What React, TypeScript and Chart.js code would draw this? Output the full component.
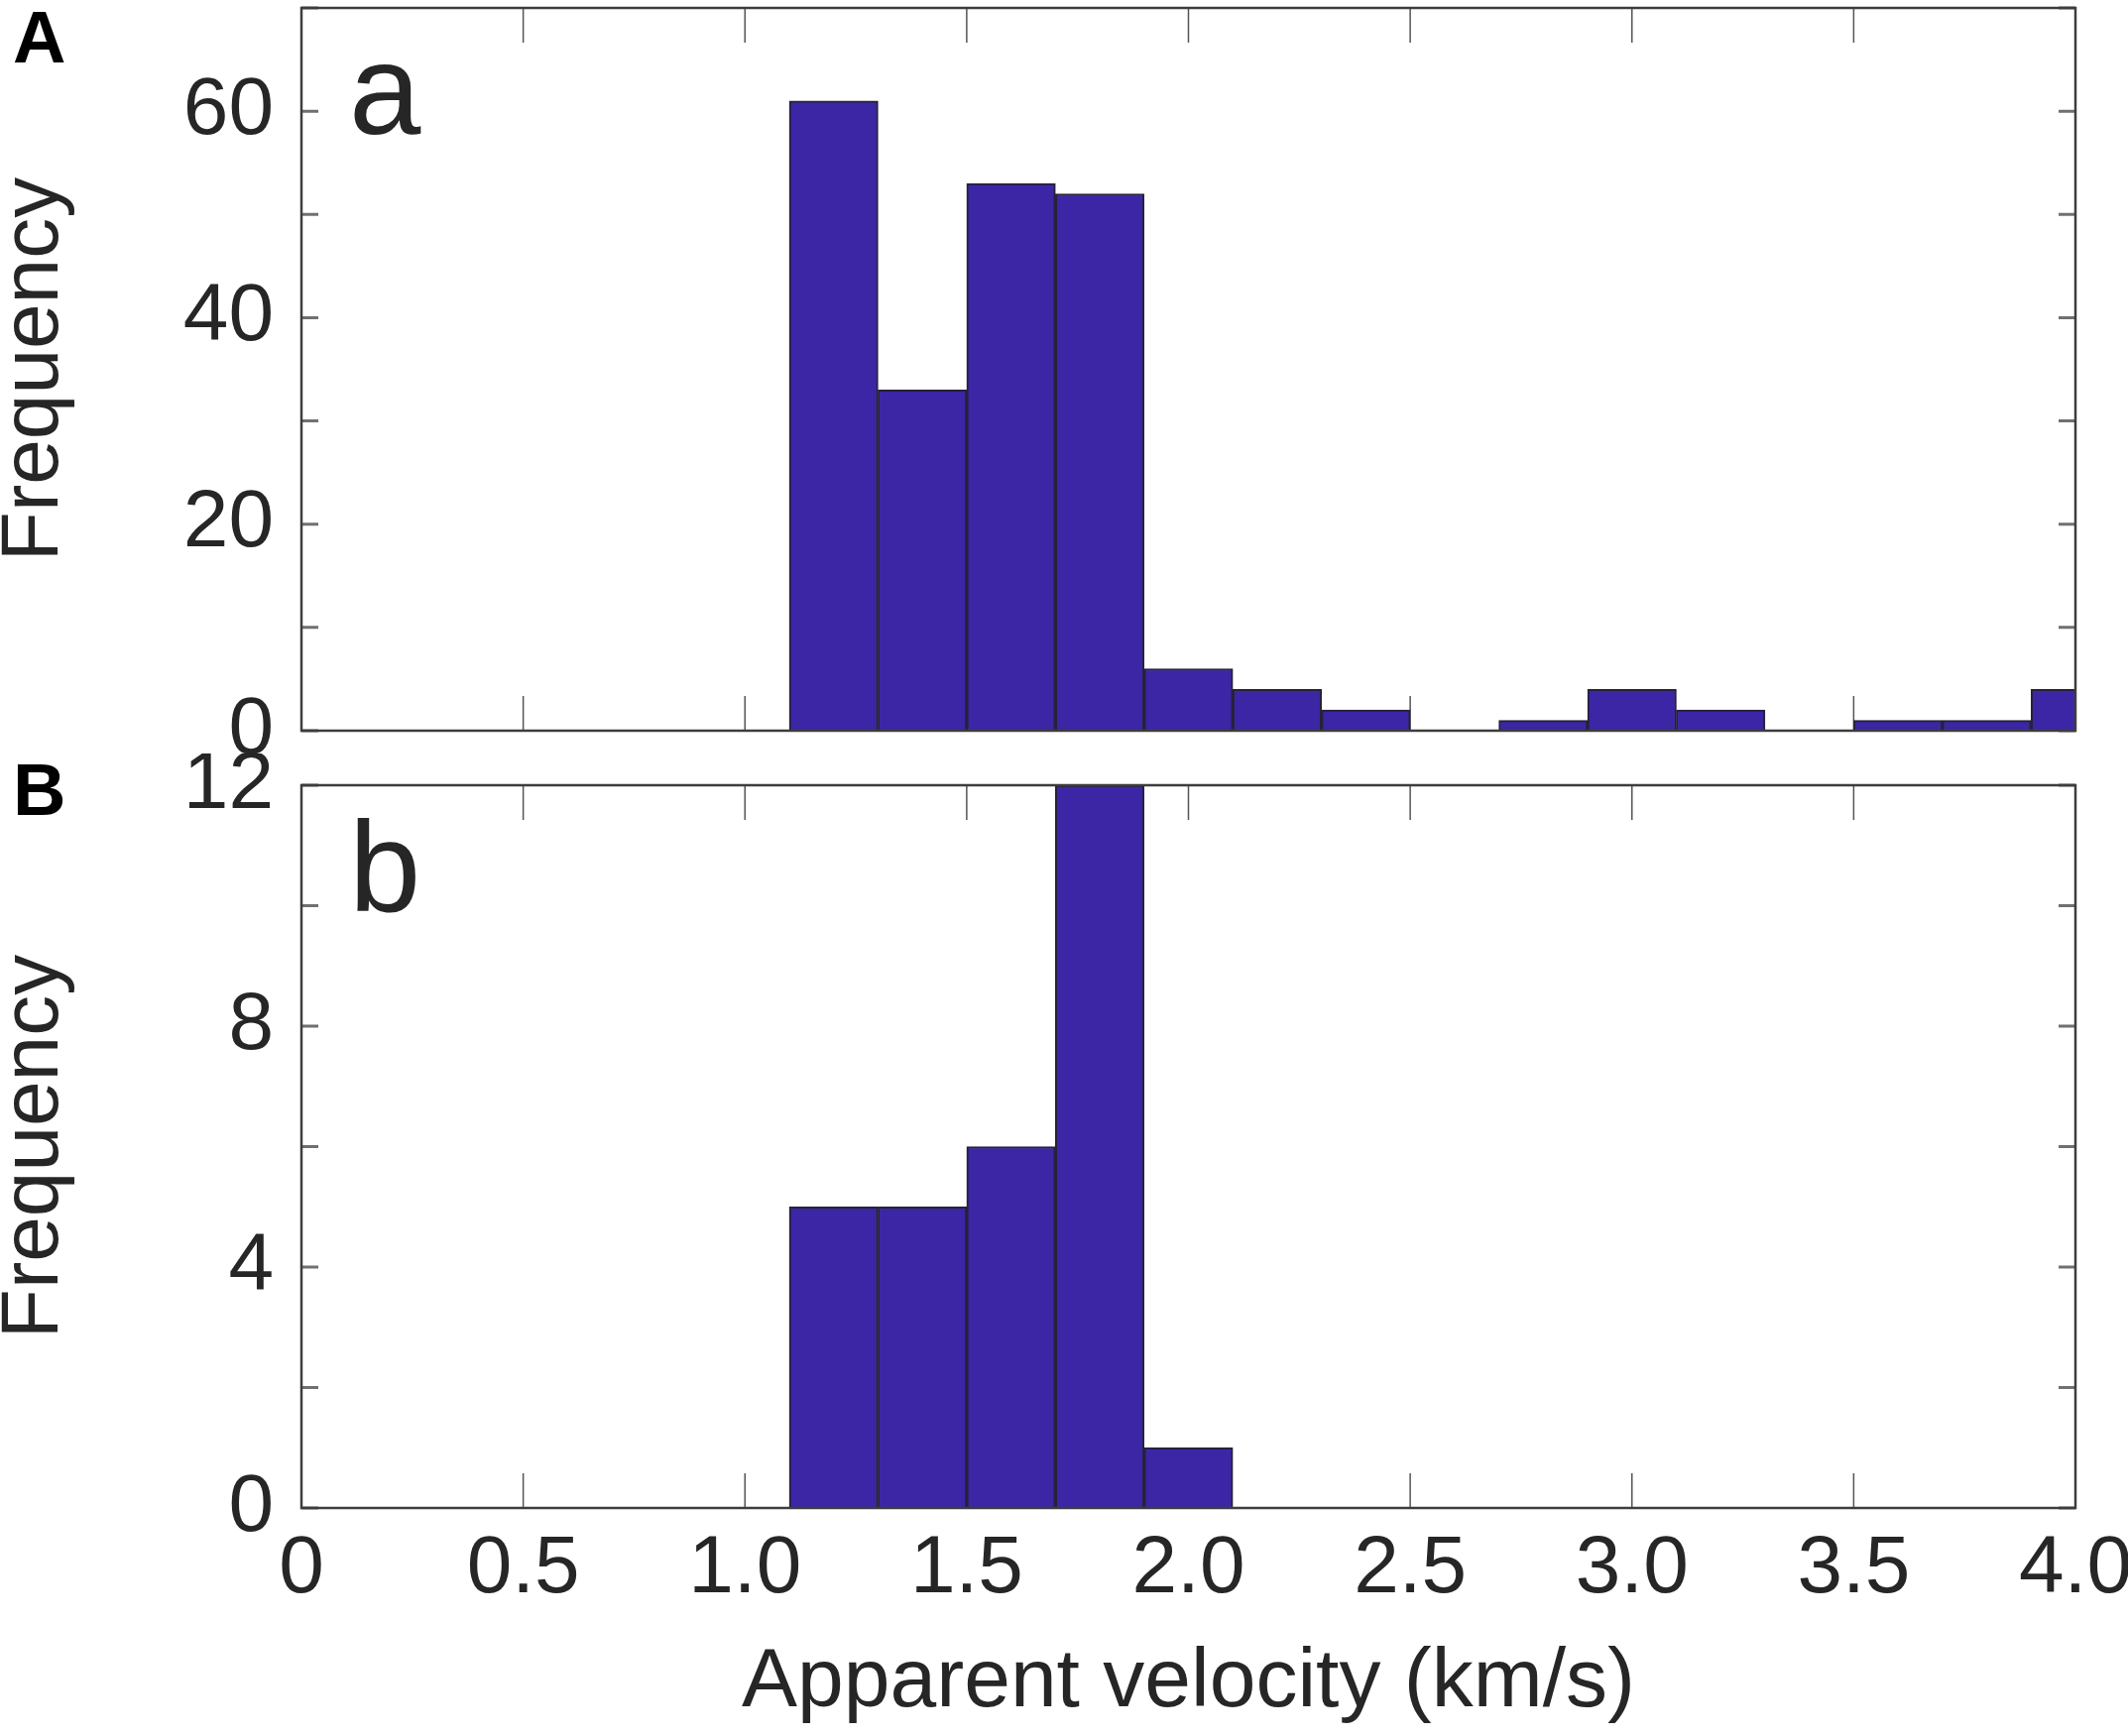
import React, { useEffect, useRef } from 'react';
import { Chart, registerables } from 'chart.js';

Chart.register(...registerables);

// histogram bins are 0.2 km/s wide, values are counts per bin
const binCentersA = [1.2, 1.4, 1.6, 1.8, 2.0, 2.2, 2.4, 2.6, 2.8, 3.0, 3.2, 3.4, 3.6, 3.8, 4.0];
const countsA = [61, 33, 53, 52, 6, 4, 2, 0, 1, 4, 2, 0, 1, 1, 4];

const binCentersB = [1.2, 1.4, 1.6, 1.8, 2.0];
const countsB = [5, 5, 6, 12, 1];

const velocityMin = 0;
const velocityMax = 4;
const velocityStep = 0.5;

const FONT = '"Liberation Sans", Arial, Helvetica, sans-serif';
const TEXT = '#262626';
const BAR_FILL = '#3C26A5';
const BAR_EDGE = '#26223a';

interface PanelProps {
  figLetter: string;
  subLetter: string;
  centers: number[];
  counts: number[];
  yMax: number;
  yStep: number;
  yLabelEvery: number;
  showX: boolean;
  top: number;
  height: number;
  padTop: number;
  xAxisHeight: number;
  figLetterY: number;
}

function makeDecor(figLetter: string, subLetter: string, figLetterY: number) {
  return {
    id: 'panelDecor',
    beforeDatasetsDraw(chart: any) {
      const { ctx, chartArea: a, scales } = chart;
      ctx.save();
      // inward tick marks (drawn under the bars)
      ctx.strokeStyle = '#707070';
      ctx.lineWidth = 3;
      scales.y.ticks.forEach((t: any) => {
        const py = scales.y.getPixelForValue(t.value);
        ctx.beginPath();
        ctx.moveTo(a.left, py);
        ctx.lineTo(a.left + 17, py);
        ctx.moveTo(a.right, py);
        ctx.lineTo(a.right - 17, py);
        ctx.stroke();
      });
      ctx.strokeStyle = '#555555';
      ctx.lineWidth = 1.5;
      scales.x.ticks.forEach((t: any) => {
        const px = scales.x.getPixelForValue(t.value);
        ctx.beginPath();
        ctx.moveTo(px, a.bottom);
        ctx.lineTo(px, a.bottom - 35);
        ctx.moveTo(px, a.top);
        ctx.lineTo(px, a.top + 35);
        ctx.stroke();
      });
      ctx.restore();
    },
    afterDatasetsDraw(chart: any) {
      const { ctx, chartArea: a } = chart;
      ctx.save();
      ctx.strokeStyle = '#3d3d3d';
      ctx.lineWidth = 2.5;
      ctx.strokeRect(a.left, a.top, a.right - a.left, a.bottom - a.top);

      ctx.fillStyle = TEXT;
      ctx.textBaseline = 'alphabetic';
      ctx.textAlign = 'left';
      ctx.font = `130px ${FONT}`;
      ctx.fillText(subLetter, a.left + 48, a.top + 127);

      ctx.fillStyle = '#000000';
      ctx.font = `bold 74px ${FONT}`;
      ctx.fillText(figLetter, 13, figLetterY);
      ctx.restore();
    },
  };
}

function HistPanel(props: PanelProps) {
  const canvasRef = useRef<HTMLCanvasElement>(null);

  useEffect(() => {
    if (!canvasRef.current) return;
    const ctx = canvasRef.current.getContext('2d');
    if (!ctx) return;

    const points = props.centers.map((c, i) => ({ x: c, y: props.counts[i] }));

    const chart = new Chart(ctx, {
      type: 'bar',
      data: {
        datasets: [
          {
            data: points,
            backgroundColor: BAR_FILL,
            borderColor: BAR_EDGE,
            borderWidth: 2,
            barPercentage: 1,
            categoryPercentage: 1,
          },
        ],
      },
      options: {
        responsive: false,
        animation: false,
        events: [],
        layout: { padding: { top: props.padTop, right: 53, left: 0, bottom: 0 } },
        plugins: {
          legend: { display: false },
          tooltip: { enabled: false },
        },
        scales: {
          x: {
            type: 'linear',
            min: velocityMin,
            max: velocityMax,
            offset: false,
            grid: { display: false, drawTicks: false, offset: false },
            border: { display: false },
            ticks: {
              display: props.showX,
              stepSize: velocityStep,
              padding: 21,
              color: TEXT,
              font: { family: FONT, size: 82, lineHeight: 1 },
              maxRotation: 0,
              autoSkip: false,
              callback: (v: any) => (Number(v) === 0 ? '0' : Number(v).toFixed(1)),
            },
            title: {
              display: props.showX,
              text: 'Apparent velocity (km/s)',
              color: TEXT,
              font: { family: FONT, size: 84, lineHeight: 1 },
              padding: { top: 0, bottom: 11 },
            },
            afterFit: (scale: any) => {
              scale.height = props.xAxisHeight;
              scale.paddingLeft = 0;
              scale.paddingRight = 0;
            },
          },
          y: {
            min: 0,
            max: props.yMax,
            grid: { display: false, drawTicks: false },
            border: { display: false },
            ticks: {
              stepSize: props.yStep,
              padding: 28,
              color: TEXT,
              font: { family: FONT, size: 82, lineHeight: 1 },
              autoSkip: false,
              callback: (v: any) => (Number(v) % props.yLabelEvery === 0 ? String(v) : ''),
            },
            title: {
              display: true,
              text: 'Frequency',
              color: TEXT,
              font: { family: FONT, size: 82, lineHeight: 0.86 },
              padding: 0,
            },
            afterFit: (scale: any) => {
              scale.width = 304;
              scale.paddingTop = 0;
              scale.paddingBottom = 0;
            },
          },
        },
      },
      plugins: [makeDecor(props.figLetter, props.subLetter, props.figLetterY)],
    } as any);

    return () => {
      chart.destroy();
    };
  }, [props]);

  return (
    <canvas
      ref={canvasRef}
      width={2146}
      height={props.height}
      style={{ position: 'absolute', left: 0, top: props.top, width: 2146, height: props.height }}
    />
  );
}

export default function App() {
  return (
    <div
      style={{
        position: 'absolute',
        left: 0,
        top: 0,
        width: 2146,
        height: 1751,
        background: '#ffffff',
        overflow: 'hidden',
      }}
    >
      <HistPanel
        figLetter="A"
        subLetter="a"
        centers={binCentersA}
        counts={countsA}
        yMax={70}
        yStep={10}
        yLabelEvery={20}
        showX={false}
        top={0}
        height={790}
        padTop={8}
        xAxisHeight={53}
        figLetterY={63}
      />
      <HistPanel
        figLetter="B"
        subLetter="b"
        centers={binCentersB}
        counts={countsB}
        yMax={12}
        yStep={2}
        yLabelEvery={4}
        showX={true}
        top={760}
        height={991}
        padTop={32}
        xAxisHeight={230}
        figLetterY={62}
      />
    </div>
  );
}
